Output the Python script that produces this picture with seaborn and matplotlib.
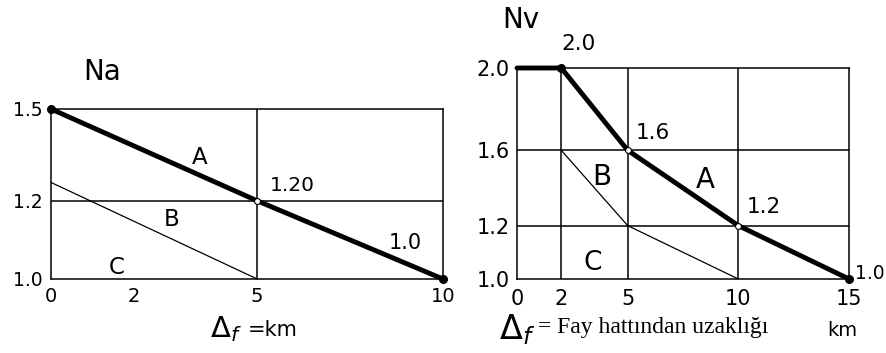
import numpy as np
import pandas as pd
import matplotlib
matplotlib.use("Agg")
import matplotlib.pyplot as plt
import seaborn as sns

# ---- data -------------------------------------------------------------
# Na (left): distance to fault (km) vs near-source factor
na_a_km = [0, 5, 10]
na_a_val = [1.5, 1.2, 1.0]
na_bc_km = [0, 5]
na_bc_val = [1.26, 1.0]
na_xticks = [0, 2, 5, 10]
na_yticks = [1.0, 1.2, 1.5]

# Nv (right)
nv_a_km = [0, 2, 5, 10, 15]
nv_a_val = [2.0, 2.0, 1.6, 1.2, 1.0]
nv_bc_km = [2, 5, 10]
nv_bc_val = [1.6, 1.2, 1.0]
nv_xticks = [0, 2, 5, 10, 15]
nv_yticks = [1.0, 1.2, 1.6, 2.0]

W, H = 887, 353

sns.set_style("white")
plt.rcParams["font.family"] = ["DejaVu Sans"]
plt.rcParams["text.color"] = "black"
plt.rcParams["xtick.color"] = "black"
plt.rcParams["ytick.color"] = "black"


def piecewise(src, dst):
    """Piecewise-linear monotone mapping with linear extrapolation."""
    src = np.asarray(src, float)
    dst = np.asarray(dst, float)
    s_lo = (dst[1] - dst[0]) / (src[1] - src[0])
    s_hi = (dst[-1] - dst[-2]) / (src[-1] - src[-2])

    def f(v):
        v = np.asarray(v, float)
        out = np.interp(v, src, dst)
        out = np.where(v < src[0], dst[0] + (v - src[0]) * s_lo, out)
        out = np.where(v > src[-1], dst[-1] + (v - src[-1]) * s_hi, out)
        return out

    return f


def fpos(x, y):
    return x / W, 1 - y / H


fig = plt.figure(figsize=(W / 100, H / 100), dpi=100)


# axes rectangles in pixels: left, top, right, bottom
def add_axes(l, t, r, b):
    return fig.add_axes([l / W, 1 - b / H, (r - l) / W, (b - t) / H])


axL = add_axes(51, 109, 443, 279)
axR = add_axes(517, 68, 849, 279)

# hand-drawn graph paper: uneven spacing of the grid values
axL.set_xscale("function", functions=(piecewise([0, 5, 10], [0, 0.526, 1]),
                                      piecewise([0, 0.526, 1], [0, 5, 10])))
axL.set_yscale("function", functions=(piecewise([1.0, 1.2, 1.5], [0, 0.46, 1]),
                                      piecewise([0, 0.46, 1], [1.0, 1.2, 1.5])))
axR.set_yscale("function",
               functions=(piecewise([1.0, 1.2, 1.6, 2.0], [0, 0.253, 0.61, 1]),
                          piecewise([0, 0.253, 0.61, 1], [1.0, 1.2, 1.6, 2.0])))

axL.set_xlim(0, 10)
axL.set_ylim(1.0, 1.5)
axR.set_xlim(0, 15)
axR.set_ylim(1.0, 2.0)

thick = 3.5
thin = 0.9
grid_lw = 1.1

for ax in (axL, axR):
    for sp in ax.spines.values():
        sp.set_color("black")
        sp.set_linewidth(1.1)
    ax.tick_params(length=0, colors="black")
    ax.minorticks_off()

# grid lines
axL.axvline(5, color="black", lw=grid_lw, zorder=1)
axL.axhline(1.2, color="black", lw=grid_lw, zorder=1)
for xv in [2, 5, 10]:
    axR.axvline(xv, color="black", lw=grid_lw, zorder=1)
for yv in [1.2, 1.6]:
    axR.axhline(yv, color="black", lw=grid_lw, zorder=1)

# curves
dfLA = pd.DataFrame({"km": na_a_km, "N": na_a_val})
dfLB = pd.DataFrame({"km": na_bc_km, "N": na_bc_val})
dfRA = pd.DataFrame({"km": nv_a_km, "N": nv_a_val})
dfRB = pd.DataFrame({"km": nv_bc_km, "N": nv_bc_val})

sns.lineplot(data=dfLA, x="km", y="N", ax=axL, color="black", lw=thick,
             sort=False, zorder=3, clip_on=False)
sns.lineplot(data=dfLB, x="km", y="N", ax=axL, color="black", lw=thin,
             sort=False, zorder=3, clip_on=False)
sns.lineplot(data=dfRA, x="km", y="N", ax=axR, color="black", lw=thick,
             sort=False, zorder=3, clip_on=False)
sns.lineplot(data=dfRB, x="km", y="N", ax=axR, color="black", lw=thin,
             sort=False, zorder=3, clip_on=False)

# end points (filled) and break points (open)
axL.scatter([na_a_km[0], na_a_km[-1]], [na_a_val[0], na_a_val[-1]],
            s=30, color="black", zorder=5, clip_on=False)
axL.scatter([na_a_km[1]], [na_a_val[1]], s=18, facecolor="white",
            edgecolor="black", lw=0.8, zorder=5)
axR.scatter([nv_a_km[1], nv_a_km[-1]], [nv_a_val[1], nv_a_val[-1]],
            s=30, color="black", zorder=5, clip_on=False)
axR.scatter(nv_a_km[2:4], nv_a_val[2:4], s=18, facecolor="white",
            edgecolor="black", lw=0.8, zorder=5)


# value labels at the marked points
def val_label(ax, x, y, fmt, dx, dy, size, ha="left", va="bottom"):
    ax.annotate(fmt.format(y), xy=(x, y), xytext=(dx, dy),
                textcoords="offset points", ha=ha, va=va, fontsize=size,
                annotation_clip=False)


val_label(axL, na_a_km[1], na_a_val[1], "{:.2f}", 9, 4, 14.5)
val_label(axL, na_a_km[2], na_a_val[2], "{:.1f}", -27, 19, 15, ha="center")
val_label(axR, nv_a_km[1], nv_a_val[1], "{:.1f}", 0, 10, 15.5)
val_label(axR, nv_a_km[2], nv_a_val[2], "{:.1f}", 6, 5, 15.5)
val_label(axR, nv_a_km[3], nv_a_val[3], "{:.1f}", 6, 6, 15.5)
val_label(axR, nv_a_km[4], nv_a_val[4], "{:.1f}", 4.5, 4, 13.5, va="center")

# ticks
axL.set_xticks(na_xticks, [str(v) for v in na_xticks])
axL.set_yticks(na_yticks, [f"{v:.1f}" for v in na_yticks])
axR.set_xticks(nv_xticks, [str(v) for v in nv_xticks])
axR.set_yticks(nv_yticks, [f"{v:.1f}" for v in nv_yticks])
axL.tick_params(axis="x", pad=6, labelsize=14)
axL.tick_params(axis="y", pad=6, labelsize=13.5)
axR.tick_params(axis="x", pad=7, labelsize=15)
axR.tick_params(axis="y", pad=5, labelsize=15)
for ax in (axL, axR):
    ax.set_xlabel("")
    ax.set_ylabel("")


# zone letters and axis names
def ftext(x, y, s, size, **kw):
    fig.text(*fpos(x, y), s, fontsize=size, ha="center", va="center", **kw)


ftext(102, 72, "Na", 20)
ftext(200, 157, "A", 16.5)
ftext(172, 220, "B", 16.5)
ftext(117, 267, "C", 16.5)

ftext(521, 20, "Nv", 20)
ftext(705, 180, "A", 20)
ftext(602, 177, "B", 20)
ftext(593, 263, "C", 19)

# x-axis captions
ftext(226, 329, r"$\Delta_f$", 21)
ftext(273, 330, "=km", 15)
ftext(517, 330, r"$\Delta_f$", 24)
fig.text(*fpos(538, 327), "= Fay hattından uzaklığı", fontsize=17,
         family="Liberation Serif", ha="left", va="center")
ftext(842, 330, "km", 14)

fig.savefig("out.png", dpi=100)
